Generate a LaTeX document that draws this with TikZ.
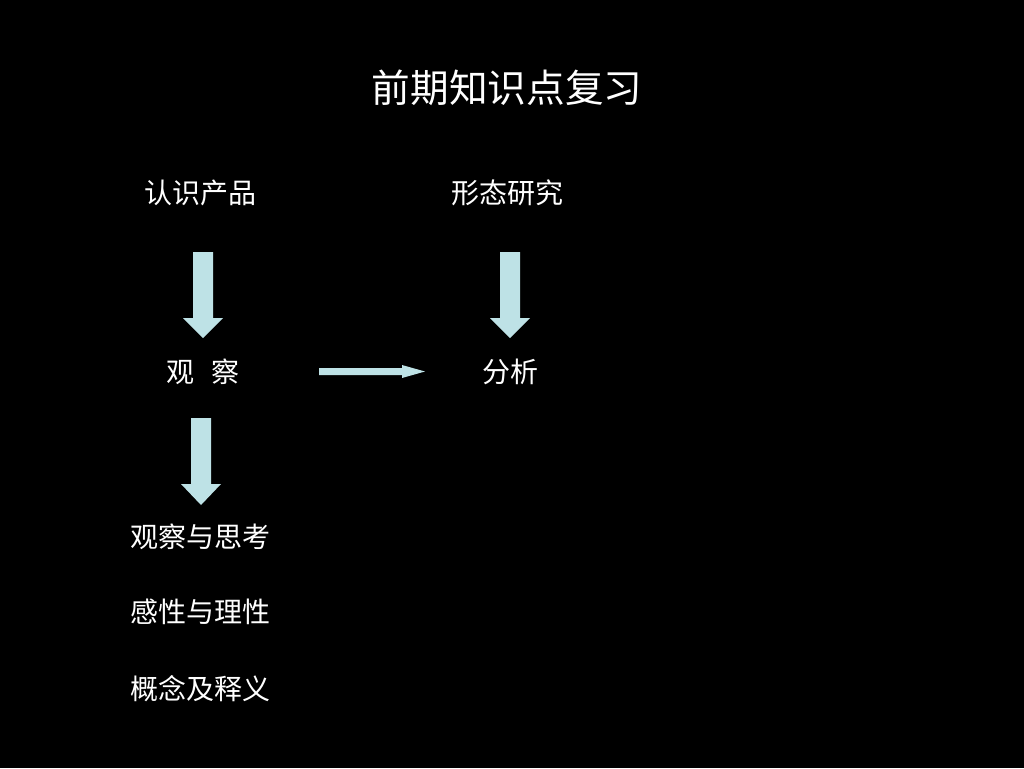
\documentclass[tikz,border=0pt]{standalone}
\usepackage{fontspec}
\setmainfont{Noto Sans CJK SC}
\definecolor{arrowfill}{RGB}{190,226,230}
\begin{document}
\begin{tikzpicture}[x=0.75pt,y=-0.75pt,
  lbl/.style={text=white,font=\fontsize{21}{25}\selectfont,inner sep=0pt},
  blk/.style={fill=arrowfill,draw=none}]
\useasboundingbox[fill=black] (0,0) rectangle (1024,768);
\node[text=white,font=\fontsize{29}{34}\selectfont,inner sep=0pt] (title) at (507,88) {前期知识点复习};
\node[lbl] (rs) at (200,193) {认识产品};
\node[lbl] (xt) at (507,193) {形态研究};
\node[lbl] (gc) at (203,372) {观\hspace{0.6em}察};
\node[lbl] (fx) at (510,372) {分析};
\node[lbl] (gs) at (200,537) {观察与思考};
\node[lbl] (gx) at (200,612) {感性与理性};
\node[lbl] (gn) at (200,689) {概念及释义};
% block arrows
\fill[blk] (193,252) -- (213,252) -- (213,318) -- (223,318) -- (203,338) -- (183,318) -- (193,318) -- cycle;
\fill[blk] (500,252) -- (520,252) -- (520,318) -- (530,318) -- (510,338) -- (490,318) -- (500,318) -- cycle;
\fill[blk] (191,418) -- (211,418) -- (211,484) -- (221,484) -- (201,505) -- (181,484) -- (191,484) -- cycle;
\fill[blk] (319,368) -- (402,368) -- (402,365) -- (425,371.5) -- (402,378) -- (402,375) -- (319,375) -- cycle;
\end{tikzpicture}
\end{document}
